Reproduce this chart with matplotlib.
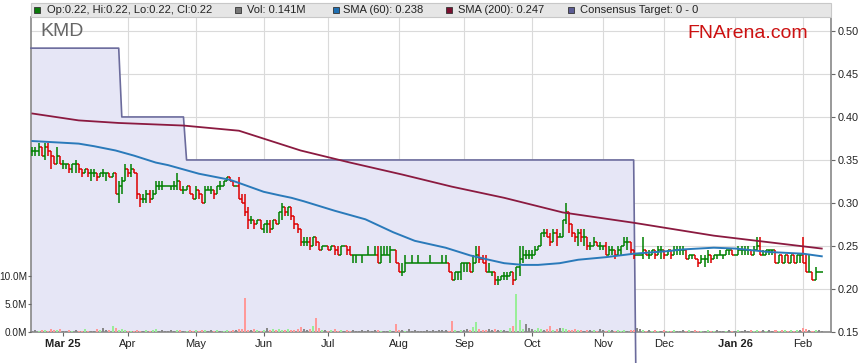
import numpy as np
import pandas as pd
import matplotlib
matplotlib.use('Agg')
import matplotlib.pyplot as plt
from matplotlib.patches import Rectangle

plt.rcParams['font.family'] = ['Liberation Sans', 'DejaVu Sans']

# daily prices in cents, first trading day 17 Feb 2025
start_date = '2025-02-17'

opens = [36, 36, 36, 36.5, 35.5, 36.5, 36, 35.5, 34.5, 35.5,
         34.5, 34.5, 34.5, 34, 34.5, 34.5, 34, 33.5, 34, 33.5,
         33.5, 33.5, 33, 33.5, 33.5, 33.5, 33, 33.5, 31, 32,
         32.5, 34, 33.5, 34, 33.5, 31, 30.5, 30.5, 31, 30.5,
         31, 32, 32, 32, 32, 32, 32, 32, 32.5, 31.5,
         31.5, 32, 31, 30.5, 31.5, 31, 30, 31.5, 31.5, 31.5,
         31, 32, 32, 32.5, 33, 32.5, 32, 32, 30.5, 30,
         29, 28, 28, 27.5, 28, 27, 27.5, 27.5, 27, 28,
         27.5, 29, 29.5, 29, 29.5, 28.5, 27.5, 27, 25.5, 25.5,
         25.5, 25, 26, 25.5, 24.5, 25, 25, 24.5, 25, 24.5,
         24, 25, 25, 24.5, 24, 24, 24, 24, 24, 24,
         24, 24, 24, 23, 24, 24, 24, 24.5, 24.5, 23,
         22, 22, 23, 23, 23, 23, 23, 23, 23, 23, 23,
         23, 23, 23, 23, 23, 22, 21, 22, 22, 23,
         23, 23, 22, 23, 24, 23.5, 23, 22, 22, 22,
         21, 21, 21.5, 21.5, 21.5, 22, 21, 22.5, 23.5, 24,
         24, 24, 24, 24.5, 25, 26.5, 26.5, 26, 25.5, 26.5,
         26, 26, 28, 29, 27.5, 26.5, 26, 26.5, 26, 26,
         25, 25, 25.5, 25, 25, 25, 24, 24.5, 24.5, 24,
         24.5, 25, 25.5, 25.5, 24.5, 24, 24, 24, 24.5, 24,
         24, 24.5, 24, 24.5, 24.5, 24, 24.5, 24, 24.5, 24.5,
         24.5, 24.5, 23.5, 24, 24, 23.5, 23, 23.5, 23.5, 24,
         23.5, 24, 24, 24, 24, 24.5, 24.5, 24, 24, 24.5,
         24.5, 24.5, 24.5, 24, 24.5, 25, 24, 24, 24.5, 24.5,
         24.5, 23, 24, 23, 24, 23, 24, 23, 24, 24,
         23, 22, 22, 21, 22, 22]

highs = [36.5, 36.5, 37, 36.5, 37, 37, 36, 35.5, 36.5, 35.5,
         35, 34.5, 34.5, 34.5, 35, 34.5, 34, 34, 34, 34,
         34, 33.5, 33.5, 34, 33.5, 33.5, 33.5, 33.5, 32.5, 33,
         34.5, 34, 34.5, 34, 33.5, 31, 31, 31.5, 31.5, 31.5,
         32.5, 32.5, 32.5, 32, 32, 32, 32.5, 33.5, 32.5, 32,
         32, 32, 31, 32, 31.5, 31, 32, 32, 32, 31.5,
         32, 32.5, 32.5, 33, 33, 32.5, 32, 33, 31, 31,
         29.5, 28.5, 28, 28, 28, 27.5, 28, 28, 28, 28,
         29, 30, 29.5, 29.5, 29.5, 28.5, 27.5, 27, 26, 26,
         26, 26, 26, 25.5, 25, 25, 25, 25, 25, 25,
         25, 25, 25, 25, 24, 24, 24, 24, 24, 25,
         24, 25, 25, 25, 25, 25, 25, 24.5, 24.5, 23,
         23, 24, 23, 24, 23, 24, 23, 23, 23, 24, 23,
         23, 23, 24, 24, 23, 22, 22, 22, 23, 23,
         23, 23, 24, 25, 25, 24, 24, 23, 22, 22,
         21.5, 21.5, 22, 22, 22, 22, 22.5, 25, 25, 24.5,
         24.5, 24.5, 25, 25, 26.5, 27, 27, 26.5, 27, 27,
         26.5, 28, 30, 29, 27.5, 26.5, 27, 27, 27, 26,
         25.5, 26, 25.5, 25.5, 25, 25.5, 25, 25, 24.5, 25,
         25, 26, 26, 25.5, 24.5, 24, 24, 26, 24.5, 24.5,
         24.5, 24.5, 25, 25, 24.5, 24.5, 24.5, 25, 25, 25,
         25, 24.5, 24, 24, 24, 23.5, 24, 24, 24.5, 24,
         24, 24, 24.5, 24, 24.5, 24.5, 24.5, 24, 25, 25,
         25, 25, 24.5, 25, 26, 26, 24.5, 24.5, 24.5, 24.5,
         24.5, 24, 24, 24, 24, 24, 24, 24, 24, 26,
         24, 24, 22, 22.5, 22, 22]

lows = [35.5, 35.5, 35.5, 35.5, 35, 35.5, 34, 34.5, 34.5, 34.5,
        34, 34, 33.5, 33.5, 33.5, 33.5, 33, 33.5, 33, 32.5,
        33, 32.5, 33, 33, 32.5, 33, 33, 31, 30, 31,
        32.5, 33, 33, 33.5, 30.5, 29.5, 30, 30, 30, 30.5,
        31, 31.5, 31.5, 32, 32, 31.5, 31.5, 31.5, 31.5, 31,
        31.5, 31, 30.5, 30.5, 30.5, 30, 30, 31.5, 31, 30.5,
        31, 31.5, 32, 32.5, 32.5, 32, 32, 30.5, 30, 28.5,
        27, 27.5, 27, 27.5, 27, 26.5, 26.5, 26.5, 27, 27.5,
        27.5, 28, 28.5, 28.5, 28, 27, 26.5, 25, 25, 25,
        24.5, 25, 25, 24.5, 24.5, 25, 24.5, 24.5, 24, 24,
        24, 25, 24, 24, 23, 23, 24, 23, 24, 24,
        24, 24, 23, 23, 24, 24, 23, 24.5, 23, 22,
        21.5, 22, 23, 23, 23, 23, 23, 23, 23, 23, 23,
        23, 23, 23, 23, 22, 21, 21, 21, 21, 22,
        22, 22, 22, 23, 23, 23, 22, 22, 21.5, 20.5,
        20.5, 21, 21, 21, 21.5, 20.5, 21, 21.5, 23, 23.5,
        23.5, 23.5, 24, 24.5, 25, 26, 26, 25, 25.5, 25,
        26, 26, 27.5, 26.5, 26, 25.5, 25, 25.5, 25, 24.5,
        24.5, 25, 25, 24.5, 24.5, 24, 24, 24, 23.5, 24,
        24, 25, 24.5, 24, 23.5, 24, 24, 23.5, 24, 23.5,
        24, 23.5, 24, 23.5, 23.5, 24, 23.5, 24, 24, 24,
        24, 23.5, 23.5, 23.5, 23.5, 22.5, 23, 22.5, 23, 23,
        23.5, 23.5, 24, 23.5, 24, 24, 24, 24, 24, 24,
        24, 24, 24, 24, 24.5, 24, 24, 24, 24, 24,
        23, 23, 23, 23, 23, 23, 23, 23, 23, 23,
        22, 22, 21, 21, 22, 22]

closes = [36, 36, 36.5, 35.5, 36.5, 36, 35.5, 34.5, 35.5, 34.5,
          34.5, 34.5, 34, 34.5, 34.5, 34, 33.5, 34, 33.5, 33.5,
          33.5, 33, 33.5, 33.5, 33.5, 33, 33.5, 31, 32, 32.5,
          34, 33.5, 34, 33.5, 31, 30.5, 30.5, 31, 30.5, 31,
          32, 32, 32, 32, 32, 32, 32, 32.5, 31.5, 31.5,
          32, 31, 30.5, 31.5, 31, 30, 31.5, 31.5, 31.5, 31,
          32, 32, 32.5, 33, 32.5, 32, 32, 30.5, 30, 29,
          28, 28, 27.5, 28, 27, 27.5, 27.5, 27, 28, 27.5,
          29, 29.5, 29, 29.5, 28.5, 27.5, 27, 25.5, 25.5, 25.5,
          25, 26, 25.5, 24.5, 25, 25, 24.5, 25, 24.5, 24,
          25, 25, 24.5, 24, 24, 24, 24, 24, 24, 24,
          24, 24, 23, 24, 24, 24, 24.5, 24.5, 23, 22,
          22, 23, 23, 23, 23, 23, 23, 23, 23, 23, 23,
          23, 23, 23, 23, 22, 21, 22, 22, 23, 23,
          23, 22, 23, 24, 23.5, 23, 22, 22, 22, 21,
          21, 21.5, 21.5, 21.5, 22, 21, 22.5, 23.5, 24, 24,
          24, 24, 24.5, 25, 26.5, 26.5, 26, 25.5, 26.5, 26,
          26, 28, 29, 27.5, 26.5, 26, 26.5, 26, 26, 25,
          25, 25.5, 25, 25, 25, 24, 24.5, 24.5, 24, 24.5,
          25, 25.5, 25.5, 24.5, 24, 24, 24, 24.5, 24, 24,
          24.5, 24, 24.5, 24.5, 24, 24.5, 24, 24.5, 24.5, 24.5,
          24.5, 23.5, 24, 24, 23.5, 23, 23.5, 23.5, 24, 23.5,
          24, 24, 24, 24, 24.5, 24.5, 24, 24, 24.5, 24.5,
          24.5, 24.5, 24, 24.5, 25, 24, 24, 24.5, 24.5, 24.5,
          23, 24, 23, 24, 23, 24, 23, 24, 24, 23,
          22, 22, 21, 22, 22, 22]

# volume, millions of shares
volumes = [0.2, 0.3, 0.2, 0.3, 0.4, 0.2, 0.5, 0.3, 0.4, 0.5,
           0.2, 0.1, 0.3, 0.2, 0.3, 0.1, 0.2, 0.6, 0.2, 0.1,
           0.2, 0.6, 0.3, 0.7, 0.4, 0.3, 1.0, 0.8, 0.4, 0.5,
           0.4, 0.2, 0.1, 0.2, 0.3, 0.2, 0.1, 0.3, 0.2, 0.3,
           0.5, 0.2, 0.3, 0.1, 0.2, 0.3, 0.2, 0.4, 0.3, 0.2,
           0.2, 0.4, 0.2, 0.3, 0.2, 0.4, 0.3, 0.2, 0.3, 0.2,
           0.3, 0.2, 0.1, 0.3, 0.2, 0.3, 0.4, 0.5, 0.6, 6.0,
           0.4, 0.3, 0.6, 0.3, 0.2, 0.4, 0.8, 0.3, 0.5, 0.3,
           0.6, 0.4, 0.3, 0.5, 0.4, 0.3, 0.5, 0.9, 0.6, 0.3,
           0.5, 1.0, 2.5, 0.8, 0.3, 0.4, 0.2, 0.3, 0.6, 0.2,
           0.3, 0.2, 0.4, 0.2, 0.3, 0.1, 0.2, 0.3, 0.2, 0.4,
           0.2, 0.3, 0.4, 0.2, 0.1, 0.2, 0.3, 0.2, 1.4, 0.4,
           0.3, 0.2, 0.5, 0.2, 0.3, 0.1, 0.2, 0.2, 0.3, 0.2, 0.3,
           0.2, 0.3, 0.3, 0.4, 0.2, 2.0, 0.3, 0.2, 0.4, 0.3,
           0.5, 0.4, 0.9, 1.7, 0.6, 0.4, 0.3, 0.5, 0.4, 0.5,
           0.3, 0.4, 0.3, 0.2, 0.7, 1.0, 6.7, 2.2, 0.5, 1.4,
           0.8, 0.5, 0.4, 0.7, 0.6, 0.4, 0.5, 1.0, 0.4, 0.6,
           0.7, 0.7, 0.5, 0.4, 0.3, 0.5, 0.4, 0.3, 0.2, 0.3,
           0.4, 0.3, 0.2, 0.5, 0.3, 0.2, 0.4, 0.3, 0.2, 0.3,
           0.2, 0.3, 0.2, 0.4, 0.3, 0.7, 0.5, 0.3, 0.2, 0.3,
           0.2, 0.3, 0.2, 0.2, 0.3, 0.1, 0.2, 0.3, 0.2, 0.2,
           0.3, 0.2, 0.4, 0.2, 0.3, 0.2, 0.1, 0.2, 0.3, 0.2,
           0.2, 0.3, 0.2, 0.1, 0.2, 0.3, 0.1, 0.1, 0.3, 0.2,
           0.3, 0.2, 0.4, 0.2, 0.3, 0.2, 0.3, 0.2, 0.3, 0.2,
           0.3, 0.2, 0.3, 0.4, 0.2, 0.3, 0.2, 0.3, 0.4, 0.7,
           0.5, 0.3, 0.2, 0.3, 0.4, 0.141]

# moving averages (trading day number, price)
sma60_days = [0, 15, 20, 27, 33, 40, 44, 54, 64, 68, 75, 80, 84, 88, 98, 108, 117,
              124, 134, 142, 148, 153, 159, 164, 171, 177, 186, 195, 206, 211, 221,
              228, 239, 250, 256]
sma60 = [0.372, 0.369, 0.366, 0.361, 0.355, 0.347, 0.344, 0.334, 0.327, 0.322, 0.313,
         0.309, 0.306, 0.302, 0.291, 0.281, 0.266, 0.256, 0.248, 0.239, 0.234, 0.230,
         0.228, 0.228, 0.230, 0.234, 0.237, 0.241, 0.244, 0.246, 0.248, 0.247, 0.243,
         0.241, 0.238]
sma200_days = [0, 15, 28, 49, 67, 87, 103, 120, 136, 153, 172, 195, 221, 256]
sma200 = [0.404, 0.396, 0.393, 0.390, 0.384, 0.361, 0.347, 0.333, 0.319, 0.306,
          0.289, 0.277, 0.262, 0.247]

# consensus target changes
target_dates = ['2025-02-17', '2025-03-28', '2025-04-28', '2025-11-18']
target_values = [0.48, 0.40, 0.35, 0.0]

W, H = 859, 363
fig = plt.figure(figsize=(W / 100, H / 100), dpi=100)
rect = [31 / W, 31 / H, 800 / W, 315 / H]

dates = pd.bdate_range(start_date, periods=len(closes))
x = np.arange(len(dates))
o = np.array(opens) / 100
hi = np.array(highs) / 100
lo = np.array(lows) / 100
c = np.array(closes) / 100
vol = np.array(volumes)

target = pd.Series(target_values, index=pd.to_datetime(target_dates))
target = target.reindex(dates, method='ffill').values

ax = fig.add_axes(rect)
ax.set_xlim(-0.45, 259)
ax.set_ylim(0.15, 0.5162)
ax.set_axisbelow(True)
ax.grid(color='#dadada', lw=0.8)

xt = np.r_[-0.45, x]
ax.fill_between(xt, np.r_[target[0], target], 0.15, color='#e6e6f6', lw=0, zorder=1)
ax.plot(xt, np.r_[target[0], target], color='#6b6b9c', lw=1.2, zorder=3, clip_on=False)

up = c >= o
bar_col = np.where(up, '#008000', '#dd0000')
ax.vlines(x, lo, hi, colors=bar_col, lw=1.1, zorder=5)
ax.hlines(o, x - 0.5, x, colors=bar_col, lw=1.1, zorder=5)
ax.hlines(c, x, x + 0.5, colors=bar_col, lw=1.1, zorder=5)

ax.plot(sma200_days, sma200, color='#8b1a40', lw=1.3, zorder=6)
ax.plot(sma60_days, sma60, color='#2a7aba', lw=1.4, zorder=6)

ax.yaxis.tick_right()
ax.set_yticks(np.arange(0.15, 0.51, 0.05))
ax.set_yticklabels([f'{v:.2f}' for v in np.arange(0.15, 0.51, 0.05)])
ax.tick_params(axis='y', direction='out', length=3, pad=2, labelsize=7.8,
               color='#666666', labelcolor='#222222')

month_pos = [i for i in range(1, len(dates)) if dates[i].month != dates[i - 1].month]
labels = []
for k, i in enumerate(month_pos):
    d = dates[i]
    labels.append(d.strftime('%b %y') if (k == 0 or d.month == 1) else d.strftime('%b'))
ax.set_xticks(month_pos)
ax.set_xticklabels(labels)
ax.tick_params(axis='x', direction='out', length=3, pad=2, labelsize=8,
               color='#666666', labelcolor='#222222')
for lab in ax.get_xticklabels():
    if ' ' in lab.get_text():
        lab.set_fontweight('bold')
ax.get_xgridlines()[0].set_visible(False)

for side in ['left', 'bottom', 'right']:
    ax.spines[side].set_color('#888888')
    ax.spines[side].set_linewidth(1.2)
ax.spines['top'].set_visible(False)

# volume on its own scale, left side
ax_v = fig.add_axes(rect, sharex=ax)
ax_v.patch.set_visible(False)
ax_v.set_ylim(0, 56.25)
diff = np.sign(c - o)
vol_col = np.where(diff > 0, '#99ee99', np.where(diff < 0, '#ff9999', '#888888'))
ax_v.bar(x, vol, width=0.65, color=vol_col, lw=0, zorder=2)
ax_v.set_yticks([0, 5, 10])
ax_v.set_yticklabels(['0.0M', '5.0M', '10.0M'])
ax_v.tick_params(axis='y', direction='out', length=2, pad=0.5, labelsize=7.2,
                 color='#666666', labelcolor='#222222')
ax_v.tick_params(axis='x', bottom=False, labelbottom=False)
for s in ax_v.spines.values():
    s.set_visible(False)

# legend band
fig.add_artist(Rectangle((31 / W, 1 - 17 / H), 800 / W, 14 / H, transform=fig.transFigure,
                         facecolor='#e6e6e6', edgecolor='#c8c8c8', lw=0.8))
legend_items = [
    (34, 47, '#0a7a0a', f'Op:{o[-1]:.2f}, Hi:{hi[-1]:.2f}, Lo:{lo[-1]:.2f}, Cl:{c[-1]:.2f}'),
    (235, 247, '#777777', f'Vol: {vol[-1]:.3f}M'),
    (333, 343, '#1f6fb2', f'SMA (60): {sma60[-1]:.3f}'),
    (446, 458, '#7a1030', f'SMA (200): {sma200[-1]:.3f}'),
    (568, 580, '#5c5c94', 'Consensus Target: 0 - 0'),
]
for sx, tx, col, txt in legend_items:
    fig.add_artist(Rectangle((sx / W, 1 - 13 / H), 6 / W, 6 / H, transform=fig.transFigure,
                             facecolor=col, edgecolor='#333333', lw=0.6))
    fig.text(tx / W, 1 - 10 / H, txt, fontsize=8, color='#222222', va='center', ha='left')

fig.text(40 / W, 1 - 32 / H, 'KMD', fontsize=14, color='#666666', va='center', ha='left')
fig.text(808 / W, 1 - 33 / H, 'FNArena.com', fontsize=14, color='#cc1111', va='center', ha='right')

fig.savefig('out.png', dpi=100)
